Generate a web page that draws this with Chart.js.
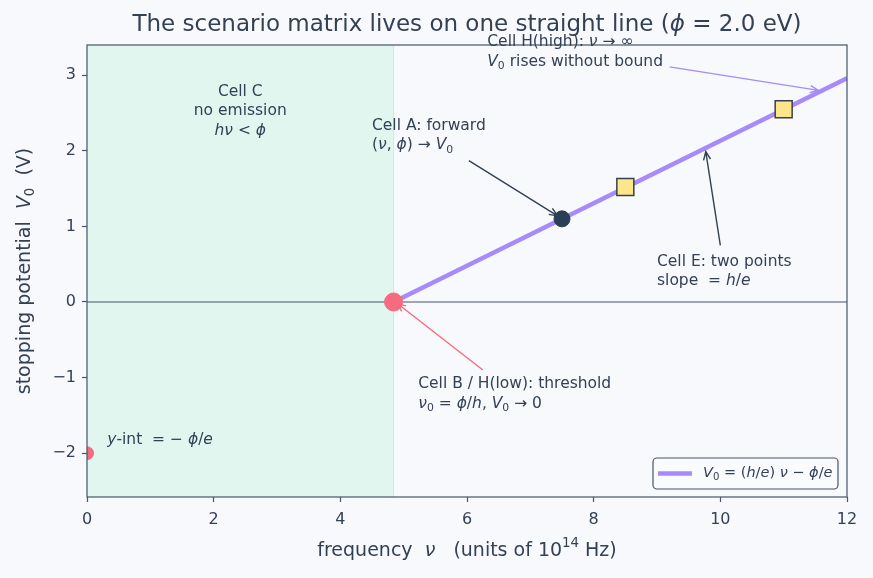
<!DOCTYPE html>
<html>
<head>
<meta charset="utf-8">
<script src="https://cdn.jsdelivr.net/npm/chart.js@4.4.1/dist/chart.umd.min.js"></script>
<style>
  html, body { margin: 0; background: #f8f9fc; }
  #wrap { width: 873px; height: 578px; }
</style>
</head>
<body>
<div id="wrap"><canvas id="chart" width="873" height="578"></canvas></div>
<script>
"use strict";

// ---- data ----
const xTicks = [0, 2, 4, 6, 8, 10, 12];
const yTicks = [-2, -1, 0, 1, 2, 3];
const xRange = [0, 12];
const yRange = [-2.58, 3.4];

const lineNu = [4.84, 12];        // V0 = (h/e) nu - phi/e, from threshold on
const lineV = [0, 2.96];
const forwardNu = [7.5];          // Cell A
const forwardV = [1.10];
const twoPointNu = [8.5, 11.0];   // Cell E
const twoPointV = [1.52, 2.55];
const thresholdNu = [4.84];       // Cell B
const thresholdV = [0];
const yIntNu = [0];
const yIntV = [-2];
const noEmissionNu = [0, 4.84];   // Cell C band

const TEXT = "#334155";
const AXIS = "#475569";
const PURPLE = "#a78bfa";
const ROSE = "#f56c80";
const FONT = '"DejaVu Sans"';

// annotations (text anchored in data units)
const notes = [
  { x: 2.42, y: 2.78, align: "center", lines: ["Cell C", "no emission", "*hν* < *ϕ*"] },
  { x: 4.5, y: 2.33, align: "left", lines: ["Cell A: forward", "(*ν*, *ϕ*) → *V*_{0}"] },
  { x: 6.32, y: 3.44, align: "left", lines: ["Cell H(high): *ν* → ∞", "*V*_{0} rises without bound"] },
  { x: 9.0, y: 0.53, align: "left", lines: ["Cell E: two points", "slope  = *h*/*e*"] },
  { x: 5.23, y: -1.09, align: "left", lines: ["Cell B / H(low): threshold", "*ν*_{0} = *ϕ*/*h*, *V*_{0} → 0"] },
  { x: 0.32, y: -1.83, align: "left", lines: ["*y*-int  = − *ϕ*/*e*"] }
];
const arrows = [
  { from: [6.03, 1.87], to: [7.43, 1.14], color: TEXT },
  { from: [9.2, 3.11], to: [11.55, 2.80], color: PURPLE },
  { from: [10.0, 0.75], to: [9.77, 1.99], color: TEXT },
  { from: [6.25, -0.9], to: [4.9, -0.02], color: ROSE }
];

const toPoints = (xs, ys) => xs.map((x, i) => ({ x: x, y: ys[i] }));

// tiny markup: *italic*, _{sub}, ^{sup}
const parse = (str) => {
  const out = [];
  let it = false, buf = "", i = 0;
  const push = () => { if (buf) out.push({ t: buf, it: it, mode: null }); buf = ""; };
  while (i < str.length) {
    const c = str[i];
    if (c === "*") { push(); it = !it; i++; }
    else if ((c === "_" || c === "^") && str[i + 1] === "{") {
      push();
      const j = str.indexOf("}", i);
      out.push({ t: str.slice(i + 2, j), it: false, mode: c });
      i = j + 1;
    } else { buf += c; i++; }
  }
  push();
  return out;
};
const fontFor = (s, size) => (s.it ? "italic " : "") + (s.mode ? size * 0.7 : size) + "px " + FONT;

const drawRich = (ctx, str, x, y, size, align, color) => {
  const segs = parse(str);
  let w = 0;
  segs.forEach(s => { ctx.font = fontFor(s, size); w += ctx.measureText(s.t).width; });
  let cx = align === "center" ? x - w / 2 : align === "right" ? x - w : x;
  ctx.fillStyle = color;
  ctx.textAlign = "left";
  ctx.textBaseline = "middle";
  segs.forEach(s => {
    ctx.font = fontFor(s, size);
    const dy = s.mode === "_" ? size * 0.28 : s.mode === "^" ? -size * 0.38 : 0;
    ctx.fillText(s.t, cx, y + dy);
    cx += ctx.measureText(s.t).width;
  });
  return w;
};

const drawArrow = (ctx, x1, y1, x2, y2, color) => {
  const a = Math.atan2(y2 - y1, x2 - x1);
  const L = 9, spread = 0.4;
  ctx.strokeStyle = color;
  ctx.lineWidth = 1.4;
  ctx.beginPath();
  ctx.moveTo(x1, y1);
  ctx.lineTo(x2, y2);
  ctx.moveTo(x2 - L * Math.cos(a - spread), y2 - L * Math.sin(a - spread));
  ctx.lineTo(x2, y2);
  ctx.lineTo(x2 - L * Math.cos(a + spread), y2 - L * Math.sin(a + spread));
  ctx.stroke();
};

const decor = {
  id: "decor",
  beforeDraw(chart) {
    const ctx = chart.ctx;
    ctx.save();
    ctx.fillStyle = "#f8f9fc";
    ctx.fillRect(0, 0, chart.width, chart.height);
    ctx.restore();
  },
  beforeDatasetsDraw(chart) {
    const { ctx, chartArea: a, scales: { x, y } } = chart;
    ctx.save();
    const x0 = x.getPixelForValue(noEmissionNu[0]);
    const x1 = x.getPixelForValue(noEmissionNu[1]);
    ctx.fillStyle = "#e1f6ef";
    ctx.fillRect(x0, a.top, x1 - x0, a.bottom - a.top);
    ctx.strokeStyle = "#c6eedd";
    ctx.lineWidth = 1;
    ctx.beginPath();
    ctx.moveTo(x1, a.top);
    ctx.lineTo(x1, a.bottom);
    ctx.stroke();
    // zero line
    const yz = y.getPixelForValue(0);
    ctx.strokeStyle = AXIS;
    ctx.lineWidth = 1.2;
    ctx.beginPath();
    ctx.moveTo(a.left, yz);
    ctx.lineTo(a.right, yz);
    ctx.stroke();
    ctx.restore();
  },
  afterDatasetsDraw(chart) {
    const { ctx, chartArea: a, scales: { x, y } } = chart;
    ctx.save();
    // axes box
    ctx.strokeStyle = AXIS;
    ctx.lineWidth = 1.2;
    ctx.strokeRect(a.left, a.top, a.right - a.left, a.bottom - a.top);

    // arrows and notes
    arrows.forEach(ar => {
      drawArrow(ctx, x.getPixelForValue(ar.from[0]), y.getPixelForValue(ar.from[1]),
        x.getPixelForValue(ar.to[0]), y.getPixelForValue(ar.to[1]), ar.color);
    });
    notes.forEach(n => {
      const px = x.getPixelForValue(n.x);
      const py = y.getPixelForValue(n.y);
      n.lines.forEach((ln, i) => drawRich(ctx, ln, px, py + i * 19.5, 15.5, n.align, TEXT));
    });

    // legend
    const lx = 653, ly = 458, lw = 185, lh = 31;
    ctx.fillStyle = "#fafbfe";
    ctx.strokeStyle = AXIS;
    ctx.lineWidth = 1.2;
    ctx.beginPath();
    ctx.roundRect(lx, ly, lw, lh, 4);
    ctx.fill();
    ctx.stroke();
    ctx.strokeStyle = PURPLE;
    ctx.lineWidth = 4.5;
    ctx.beginPath();
    ctx.moveTo(lx + 5, ly + lh / 2);
    ctx.lineTo(lx + 39, ly + lh / 2);
    ctx.stroke();
    drawRich(ctx, "*V*_{0} = (*h*/*e*) *ν* − *ϕ*/*e*", lx + 50, ly + lh / 2, 14.5, "left", TEXT);

    // title and axis titles
    drawRich(ctx, "The scenario matrix lives on one straight line (*ϕ* = 2.0 eV)", 467, 25, 23, "center", TEXT);
    drawRich(ctx, "frequency  *ν*   (units of 10^{14} Hz)", 467, 551, 19, "center", TEXT);
    ctx.translate(25, 271);
    ctx.rotate(-Math.PI / 2);
    drawRich(ctx, "stopping potential  *V*_{0}  (V)", 0, 0, 19, "center", TEXT);
    ctx.restore();
  }
};

const minus = (v) => String(v).replace("-", "\u2212");

new Chart(document.getElementById("chart"), {
  type: "scatter",
  data: {
    datasets: [
      {
        label: "Cell A",
        data: toPoints(forwardNu, forwardV),
        pointRadius: 8,
        pointBackgroundColor: "#2c3e56",
        pointBorderColor: "#2c3e56",
        clip: 0
      },
      {
        label: "Cell E",
        data: toPoints(twoPointNu, twoPointV),
        pointStyle: "rect",
        pointRadius: 12,
        pointBackgroundColor: "#fde68a",
        pointBorderColor: TEXT,
        pointBorderWidth: 1.5,
        clip: 0
      },
      {
        label: "Cell B",
        data: toPoints(thresholdNu, thresholdV),
        pointRadius: 9,
        pointBackgroundColor: ROSE,
        pointBorderColor: ROSE,
        clip: 0
      },
      {
        label: "y-int",
        data: toPoints(yIntNu, yIntV),
        pointRadius: 6.5,
        pointBackgroundColor: ROSE,
        pointBorderColor: ROSE,
        clip: 0
      },
      {
        label: "V0 line",
        data: toPoints(lineNu, lineV),
        showLine: true,
        borderColor: PURPLE,
        borderWidth: 4.5,
        pointRadius: 0,
        clip: 0
      }
    ]
  },
  options: {
    responsive: false,
    animation: false,
    events: [],
    layout: { padding: { top: 45, right: 26, left: 0, bottom: 0 } },
    plugins: { legend: { display: false }, title: { display: false }, tooltip: { enabled: false } },
    scales: {
      x: {
        type: "linear",
        min: xRange[0],
        max: xRange[1],
        afterBuildTicks: (s) => { s.ticks = xTicks.map(v => ({ value: v })); },
        afterFit: (s) => { s.height = 81; },
        ticks: { color: TEXT, font: { family: "DejaVu Sans", size: 16 }, padding: 8, callback: minus },
        grid: { drawOnChartArea: false, drawTicks: true, tickLength: 5, tickColor: AXIS, tickWidth: 1.2 },
        border: { display: false }
      },
      y: {
        type: "linear",
        min: yRange[0],
        max: yRange[1],
        afterBuildTicks: (s) => { s.ticks = yTicks.map(v => ({ value: v })); },
        afterFit: (s) => { s.width = 87; },
        ticks: { color: TEXT, font: { family: "DejaVu Sans", size: 16 }, padding: 6, callback: minus },
        grid: { drawOnChartArea: false, drawTicks: true, tickLength: 5, tickColor: AXIS, tickWidth: 1.2 },
        border: { display: false }
      }
    }
  },
  plugins: [decor]
});
</script>
</body>
</html>
